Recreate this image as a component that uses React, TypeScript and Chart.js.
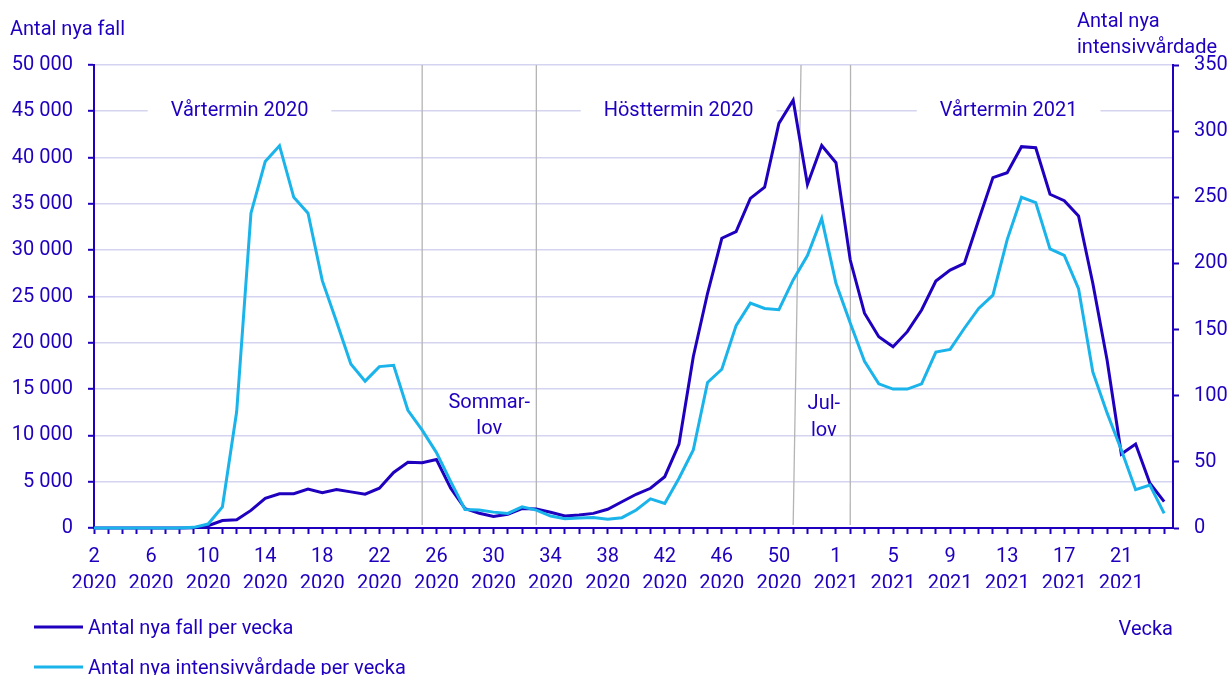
import React, { useEffect, useRef } from 'react';
import { Chart, registerables } from 'chart.js';

Chart.register(...registerables);

const DARK = '#1e00be';
const LIGHT = '#1ab4eb';
const GRID = '#d4d4f0';
const SEP = '#b4b4b4';
const FONT = 'Roboto';

// Week numbers (2020 has 53 weeks)
const weeks2020 = [2, 3, 4, 5, 6, 7, 8, 9, 10, 11, 12, 13, 14, 15, 16, 17, 18, 19, 20, 21, 22, 23, 24, 25, 26, 27, 28, 29, 30, 31, 32, 33, 34, 35, 36, 37, 38, 39, 40, 41, 42, 43, 44, 45, 46, 47, 48, 49, 50, 51, 52, 53];
const weeks2021 = [1, 2, 3, 4, 5, 6, 7, 8, 9, 10, 11, 12, 13, 14, 15, 16, 17, 18, 19, 20, 21, 22, 23, 24];

// Antal nya fall per vecka (left axis)
const cases = [0, 0, 0, 0, 0, 0, 5, 30, 250, 800, 880, 1900, 3200, 3700, 3700, 4200, 3800, 4150, 3900, 3650, 4300, 6000, 7100, 7050, 7400, 4300, 2100, 1600, 1250, 1480, 2100, 2050, 1700, 1300, 1400, 1580, 2020, 2840, 3640, 4290, 5540, 9070, 18500, 25350, 31290, 32000, 35600, 36800, 43700, 46200, 37100, 41300, 39450, 28940, 23200, 20660, 19580, 21200, 23540, 26670, 27860, 28580, 33260, 37840, 38370, 41180, 41070, 36040, 35350, 33690, 26430, 18140, 7990, 9070, 4830, 2840];

// Antal nya intensivvårdade per vecka (right axis)
const icu = [0, 0, 0, 0, 0, 0, 0, 0.5, 3, 16, 88, 238, 277, 289, 250, 238, 187, 156, 124, 111, 122, 123, 89, 74, 57, 35, 14, 13.6, 12, 11, 16, 13.5, 9, 7, 7.5, 8, 6.6, 7.8, 13.6, 22, 18.6, 37.6, 59, 110, 120, 153, 170, 166, 165, 187.5, 206, 234, 185, 155, 126, 109, 105, 105, 109, 133, 135, 151, 166, 176, 218, 250, 246, 211, 206, 181, 118, 87, 59, 29, 32.5, 11];

const weekLabels = [...weeks2020.map(String), ...weeks2021.map(String)];
const yearLabels = [...weeks2020.map(() => '2020'), ...weeks2021.map(() => '2021')];

const leftTicks = [0, 5000, 10000, 15000, 20000, 25000, 30000, 35000, 40000, 45000, 50000];
const rightTicks = [0, 50, 100, 150, 200, 250, 300, 350];

// Annotations in data coordinates (x = week index, y = left-axis value)
const termLabels = [
  { text: 'Vårtermin 2020', x: 10.2, y: 45000 },
  { text: 'Hösttermin 2020', x: 40.97, y: 45000 },
  { text: 'Vårtermin 2021', x: 64.1, y: 45000 },
];
const separators = [
  { bottom: 23, top: 23 },
  { bottom: 31, top: 31 },
  { bottom: 49, top: 49.55 },
  { bottom: 53, top: 53.02 },
];
const holidayLabels = [
  { lines: ['Sommar-', 'lov'], x: 27.7, y: 13000 },
  { lines: ['Jul-', 'lov'], x: 51.15, y: 12850 },
];

const fmt = (v: number) => String(v).replace(/\B(?=(\d{3})+(?!\d))/g, ' ');

const overlayPlugin = {
  id: 'overlay',
  beforeDatasetsDraw(chart: any) {
    const { ctx, chartArea } = chart;
    const x = chart.scales.x;
    const y = chart.scales.y;
    ctx.save();
    ctx.font = `20px ${FONT}`;
    // term labels with gap in gridline
    termLabels.forEach((t) => {
      const cx = x.getPixelForValue(t.x);
      const cy = y.getPixelForValue(t.y);
      const w = ctx.measureText(t.text).width;
      ctx.fillStyle = '#ffffff';
      ctx.fillRect(cx - w / 2 - 23, cy - 3, w + 46, 6);
      ctx.fillStyle = DARK;
      ctx.textAlign = 'center';
      ctx.textBaseline = 'alphabetic';
      ctx.fillText(t.text, cx, cy + 5);
    });
    // separators
    ctx.strokeStyle = SEP;
    ctx.lineWidth = 1.3;
    separators.forEach((s) => {
      ctx.beginPath();
      ctx.moveTo(x.getPixelForValue(s.bottom), chartArea.bottom - 3);
      ctx.lineTo(x.getPixelForValue(s.top), chartArea.top);
      ctx.stroke();
    });
    // holiday labels
    ctx.fillStyle = DARK;
    ctx.textAlign = 'center';
    ctx.textBaseline = 'alphabetic';
    holidayLabels.forEach((h) => {
      const px = x.getPixelForValue(h.x);
      const py = y.getPixelForValue(h.y);
      h.lines.forEach((ln, k) => ctx.fillText(ln, px, py + k * 26.5));
    });
    ctx.restore();
  },
  afterDraw(chart: any) {
    const { ctx, chartArea } = chart;
    ctx.save();
    ctx.font = `20px ${FONT}`;
    ctx.fillStyle = DARK;
    ctx.textBaseline = 'alphabetic';
    ctx.textAlign = 'left';
    ctx.fillText('Antal nya fall', 10, 35);
    ctx.fillText('Antal nya', 1077, 27);
    ctx.fillText('intensivvårdade', 1077, 53);
    // legend
    const items = [
      { label: chart.data.datasets[0].label, color: DARK, y: 627 },
      { label: chart.data.datasets[1].label, color: LIGHT, y: 667 },
    ];
    items.forEach((it) => {
      ctx.strokeStyle = it.color;
      ctx.lineWidth = 3;
      ctx.beginPath();
      ctx.moveTo(34, it.y);
      ctx.lineTo(83, it.y);
      ctx.stroke();
      ctx.fillStyle = DARK;
      ctx.fillText(it.label, 88, it.y + 7);
    });
    ctx.textAlign = 'right';
    ctx.fillText('Vecka', chartArea.right, 635);
    ctx.restore();
  },
};

export default function App() {
  const ref = useRef<HTMLCanvasElement | null>(null);
  useEffect(() => {
    if (!ref.current) return;
    const idx = cases.map((_, i) => i);
    const chart = new Chart(ref.current, {
      type: 'line',
      data: {
        datasets: [
          {
            label: 'Antal nya fall per vecka',
            data: cases.map((v, i) => ({ x: i, y: v })),
            borderColor: DARK,
            backgroundColor: DARK,
            borderWidth: 3,
            pointRadius: 0,
            tension: 0,
            yAxisID: 'y',
            order: 2,
            clip: false as any,
          },
          {
            label: 'Antal nya intensivvårdade per vecka',
            data: icu.map((v, i) => ({ x: i, y: v })),
            borderColor: LIGHT,
            backgroundColor: LIGHT,
            borderWidth: 3,
            pointRadius: 0,
            tension: 0,
            yAxisID: 'y1',
            order: 1,
            clip: false as any,
          },
        ],
      },
      options: {
        responsive: false,
        animation: false,
        layout: { padding: { top: 65, bottom: 87, left: 0, right: 0 } },
        plugins: {
          legend: { display: false },
          tooltip: { enabled: false },
          title: { display: false },
        },
        scales: {
          x: {
            type: 'linear',
            min: 0,
            max: 75.62,
            afterBuildTicks: (axis: any) => {
              axis.ticks = idx.map((v) => ({ value: v }));
            },
            afterFit: (s: any) => {
              s.height = 60;
            },
            grid: {
              display: true,
              drawOnChartArea: false,
              drawTicks: true,
              tickLength: 6,
              tickColor: DARK,
              tickWidth: 2,
            } as any,
            border: { display: true, color: DARK, width: 2 },
            ticks: {
              autoSkip: false,
              maxRotation: 0,
              minRotation: 0,
              padding: 10,
              color: DARK,
              font: { family: FONT, size: 20, lineHeight: 1.32 },
              callback: (v: any) => {
                const i = Number(v);
                if (i % 4 !== 0) return '';
                return [weekLabels[i], yearLabels[i]];
              },
            },
          },
          y: {
            type: 'linear',
            position: 'left',
            min: 0,
            max: 50000,
            afterBuildTicks: (axis: any) => {
              axis.ticks = leftTicks.map((v) => ({ value: v }));
            },
            afterFit: (s: any) => {
              s.width = 94;
            },
            grid: {
              color: (c: any) => (c.tick && c.tick.value === 0 ? 'rgba(0,0,0,0)' : GRID),
              lineWidth: 1.6,
              drawTicks: true,
              tickLength: 6,
              tickColor: DARK,
              tickWidth: 2,
            } as any,
            border: { display: true, color: DARK, width: 2 },
            ticks: {
              padding: 15,
              color: DARK,
              font: { family: FONT, size: 20 },
              callback: (v: any) => fmt(Number(v)),
            },
          },
          y1: {
            type: 'linear',
            position: 'right',
            min: 0,
            max: 350,
            afterBuildTicks: (axis: any) => {
              axis.ticks = rightTicks.map((v) => ({ value: v }));
            },
            afterFit: (s: any) => {
              s.width = 56;
            },
            grid: {
              drawOnChartArea: false,
              drawTicks: true,
              tickLength: 6,
              tickColor: DARK,
              tickWidth: 2,
            } as any,
            border: { display: true, color: DARK, width: 2 },
            ticks: {
              padding: 15,
              color: DARK,
              font: { family: FONT, size: 20 },
              callback: (v: any) => String(v),
            },
          },
        },
      },
      plugins: [overlayPlugin],
    } as any);
    return () => chart.destroy();
  }, []);
  return (
    <div style={{ position: 'fixed', left: 0, top: 0, width: 1229, height: 675, background: '#ffffff' }}>
      <canvas ref={ref} width={1229} height={675} style={{ width: 1229, height: 675, display: 'block' }} />
    </div>
  );
}
